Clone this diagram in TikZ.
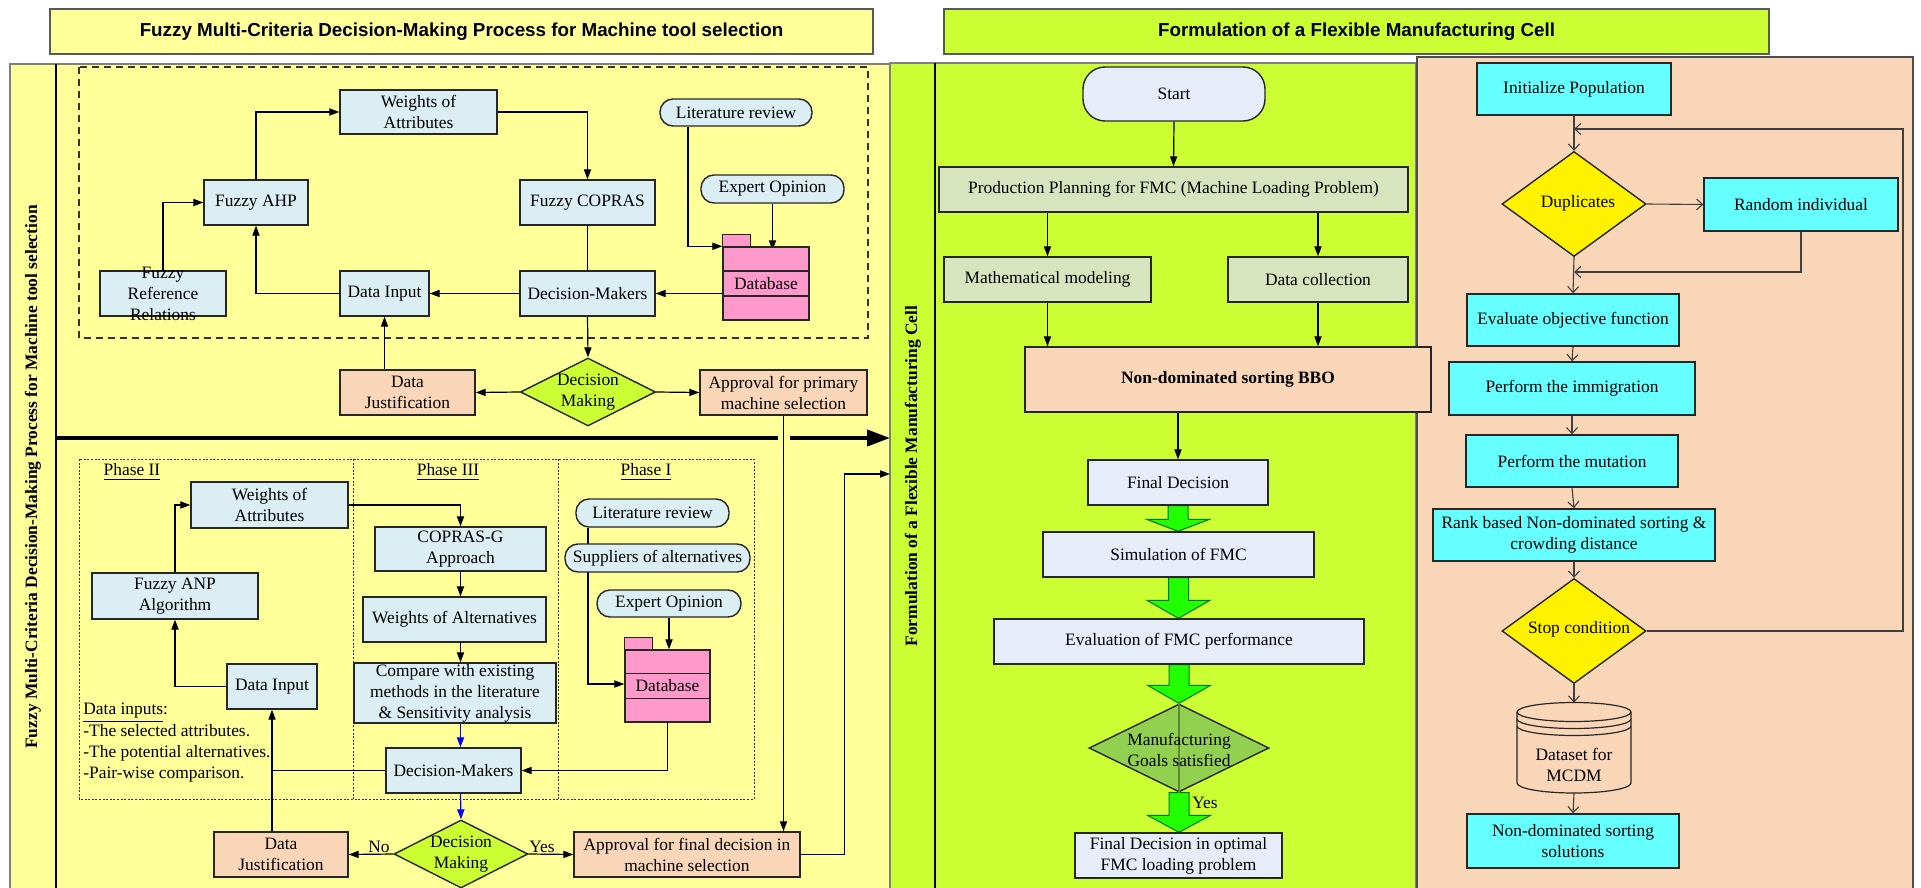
\documentclass[tikz,border=0pt]{standalone}
\usepackage{fontspec}
\setmainfont{Liberation Serif}
\newfontfamily\headfont{Liberation Sans}
\usetikzlibrary{shapes.geometric,arrows.meta,calc}

\definecolor{paleyellow}{HTML}{FFFF99}
\definecolor{lime}{HTML}{CCFF33}
\definecolor{peach}{HTML}{FAD6B8}
\definecolor{iceblue}{HTML}{DAEEF3}
\definecolor{dbpink}{HTML}{FF99CC}
\definecolor{sage}{HTML}{D7E4BD}
\definecolor{lavender}{HTML}{E6EDF8}
\definecolor{aqua}{HTML}{66FFFF}
\definecolor{goalgreen}{HTML}{92D050}
\definecolor{arrowgreen}{HTML}{22FF00}
\definecolor{edge}{HTML}{262626}
\definecolor{panelline}{HTML}{7F7F7F}

\pgfdeclarelayer{panels}
\pgfdeclarelayer{links}
\pgfsetlayers{panels,links,main}

\newcommand{\fs}{\fontsize{8.7}{10.5}\selectfont}
\newcommand{\headfs}{\headfont\bfseries\fontsize{9.4}{11}\selectfont}

\tikzset{
  sz/.style 2 args={minimum width=#1*0.5pt, minimum height=#2*0.5pt},
  box/.style={draw=edge, line width=0.7pt, inner sep=0pt, align=center, font=\fs},
  bluebox/.style={box, fill=iceblue},
  peachbox/.style={box, fill=peach},
  sagebox/.style={box, fill=sage},
  lavbox/.style={box, fill=lavender},
  aquabox/.style={box, fill=aqua},
  pill/.style={box, fill=iceblue, rounded corners=6.5pt},
  dbody/.style={box, fill=dbpink},
  dia/.style={diamond, draw=edge, line width=0.7pt, inner sep=0pt},
  lbl/.style={font=\fs, align=center, inner sep=0pt},
  link/.style={draw=black, line width=0.6pt},
  arr/.style={link, -{Triangle[length=5pt,width=3.6pt]}},
  barr/.style={arr, draw=blue},
  oarr/.style={draw=black!75, line width=0.55pt, -{Straight Barb[length=3pt,width=5.5pt]}},
  garrow/.style={fill=arrowgreen, draw=green!45!black, line width=0.5pt},
  thick arrow/.style={draw=black, line width=2pt},
}

% tab and shelves of a database symbol drawn on a body node
\newcommand{\dbparts}[1]{%
  \draw[dbody] (#1.north west) rectangle ++(28,-12);
  \draw[edge, line width=0.7pt] ($(#1.north west)!0.333!(#1.south west)$) -- ($(#1.north east)!0.333!(#1.south east)$);
  \draw[edge, line width=0.7pt] ($(#1.north west)!0.667!(#1.south west)$) -- ($(#1.north east)!0.667!(#1.south east)$);
  \node[lbl] at (#1) {Database};}

% wide green block arrow between two nodes: from, to, head length
\newcommand{\greenarrow}[3]{%
  \draw[garrow] let \p1=(#1), \p2=(#2) in
    (\x1-5pt,\y1) -- (\x1+5pt,\y1) -- (\x1+5pt,\y2+#3) -- (\x1+15.75pt,\y2+#3)
    -- (\x1,\y2) -- (\x1-15.75pt,\y2+#3) -- (\x1-5pt,\y2+#3) -- cycle;}

\begin{document}
\begin{tikzpicture}[x=0.5pt,y=-0.5pt]
\useasboundingbox (0,0) rectangle (1921,888);

% ---------------- panels ----------------
\begin{pgfonlayer}{panels}
  \fill[white] (0,0) rectangle (1921,888);
  \draw[draw=panelline, fill=paleyellow, line width=0.6pt] (10,64) rectangle (890,892);
  \draw[black, line width=0.6pt] (56,64) -- (56,892);
  \draw[draw=panelline, fill=lime, line width=0.6pt] (890,63) rectangle (1416,892);
  \draw[black, line width=0.6pt] (935,63) -- (935,892);
  \draw[draw=black!70, fill=peach, line width=0.6pt] (1417,57) rectangle (1913,892);
  \draw[black!80, line width=0.6pt, dash pattern=on 3.5pt off 2.5pt] (79,67) rectangle (868,338);
  \draw[black!80, line width=0.5pt, dash pattern=on 1pt off 0.8pt] (79,459) rectangle (754,799);
  \draw[black!80, line width=0.5pt, dash pattern=on 1pt off 0.8pt] (353,459) -- (353,799);
  \draw[black!80, line width=0.5pt, dash pattern=on 1pt off 0.8pt] (558,459) -- (558,799);
\end{pgfonlayer}

% ---------------- titles ----------------
\node[box, fill=paleyellow, draw=black!65, sz={823}{45}, font=\headfs] (title1) at (461.5,31.5)
  {Fuzzy Multi-Criteria Decision-Making Process for Machine tool selection};
\node[box, fill=lime, draw=black!65, sz={825}{45}, font=\headfs] (title2) at (1356.5,31.5)
  {Formulation of a Flexible Manufacturing Cell};

\node[rotate=90, font=\bfseries\fs, inner sep=0pt] (side1) at (33,477)
  {Fuzzy Multi-Criteria Decision-Making Process for Machine tool selection};
\node[rotate=90, font=\bfseries\fs, inner sep=0pt] (side2) at (913,476)
  {Formulation of a Flexible Manufacturing Cell};

% ---------------- primary selection ----------------
\node[bluebox, sz={157}{44}] (w1) at (418.5,112) {Weights of\\Attributes};
\node[bluebox, sz={104}{45}] (ahp) at (256,202.5) {Fuzzy AHP};
\node[bluebox, sz={135}{45}] (fcop) at (587.5,202.5) {Fuzzy COPRAS};
\node[pill, sz={152}{27}] (lr1) at (736,112.5) {Literature review};
\node[pill, sz={143}{28}] (eo1) at (772.5,189) {Expert Opinion};
\node[dbody, sz={86}{73}] (db1) at (766,283.5) {};
\dbparts{db1}
\node[bluebox, sz={126}{45}] (frr) at (163,293.5) {};
\node[lbl] (frrtext) at (frr) {Fuzzy\\Reference\\Relations};
\node[bluebox, sz={89}{45}] (di1) at (384.5,293.5) {Data Input};
\node[bluebox, sz={135}{45}] (dm1) at (587.5,293.5) {Decision-Makers};
\node[peachbox, sz={135}{45}] (dj1) at (407.5,392.5) {Data\\Justification};
\node[dia, fill=lime, sz={135}{68}] (dec1) at (588,392) {};
\node[lbl] (dec1text) at (dec1) {Decision\\Making};
\node[peachbox, sz={167}{45}] (ap1) at (783.5,392.5) {Approval for primary\\machine selection};

% ---------------- final selection ----------------
\node[lbl] (ph2) at (132,472) {\underline{Phase II}};
\node[lbl] (ph3) at (448,472) {\underline{Phase III}};
\node[lbl] (ph1) at (646,472) {\underline{Phase I}};
\node[bluebox, sz={157}{46}] (w2) at (269.5,505) {Weights of\\Attributes};
\node[bluebox, sz={171}{44}] (cg) at (460.5,549) {COPRAS-G\\Approach};
\node[bluebox, sz={166}{46}] (anp) at (175,596) {Fuzzy ANP\\Algorithm};
\node[bluebox, sz={183}{45}] (wa) at (454.5,619.5) {Weights of Alternatives};
\node[bluebox, sz={90}{45}] (di2) at (272,686.5) {Data Input};
\node[bluebox, sz={202}{60}] (cmp) at (455,693) {Compare with existing\\methods in the literature\\\& Sensitivity analysis};
\node[pill, sz={153}{28}] (lr2) at (652.5,513) {Literature review};
\node[pill, sz={185}{28}] (sup) at (657.5,558) {Suppliers of alternatives};
\node[pill, sz={144}{27}] (eo2) at (669,603.5) {Expert Opinion};
\node[dbody, sz={85}{72}] (db2) at (667.5,686) {};
\dbparts{db2}
\node[lbl, align=left, anchor=north west, font=\fontsize{8.7}{10.65}\selectfont] (inputs) at (83,703)
  {\underline{Data inputs}:\\-The selected attributes.\\-The potential alternatives.\\-Pair-wise comparison.};
\node[bluebox, sz={135}{45}] (dm2) at (453.5,770.5) {Decision-Makers};
\node[dia, fill=lime, sz={134}{68}] (dec2) at (461,854) {};
\node[lbl] (dec2text) at (dec2) {Decision\\Making};
\node[peachbox, sz={134}{45}] (dj2) at (281,854.5) {Data\\Justification};
\node[peachbox, sz={226}{45}] (ap2) at (687,854.5) {Approval for final decision in\\machine selection};
\node[lbl] (no) at (379,847) {No};
\node[lbl] (yes1) at (542,847) {Yes};

% ---------------- FMC formulation ----------------
\node[lavbox, rounded corners=11pt, sz={182}{54}] (start) at (1174,94) {Start};
\node[sagebox, sz={469}{45}] (pp) at (1173.5,189.5) {Production Planning for FMC (Machine Loading Problem)};
\node[sagebox, sz={207}{45}] (mm) at (1047.5,279.5) {Mathematical modeling};
\node[sagebox, sz={180}{45}] (dc) at (1318,279.5) {Data collection};
\node[peachbox, sz={406}{65}, font=\bfseries\fs] (bbo) at (1228,379.5) {Non-dominated sorting BBO};
\node[lavbox, sz={180}{45}] (fd) at (1178,482.5) {Final Decision};
\node[lavbox, sz={271}{45}] (sim) at (1178.5,554.5) {Simulation of FMC};
\node[lavbox, sz={370}{45}] (ev) at (1179,641.5) {Evaluation of FMC performance};
\node[dia, fill=goalgreen, sz={180}{88}] (mg) at (1179,748) {};
\draw[goalgreen!65!black, line width=0.6pt] (mg.north) -- (mg.south);
\node[lbl] (mgtext) at (1179,750) {Manufacturing\\Goals satisfied};
\node[lavbox, sz={207}{45}] (fin) at (1178.5,855.5) {Final Decision in optimal\\FMC loading problem};
\node[lbl] (yes2) at (1205,803) {Yes};

% ---------------- BBO loop ----------------
\node[aquabox, sz={194}{52}] (ip) at (1574,89) {Initialize Population};
\node[dia, fill=yellow, sz={144}{105}] (dup) at (1574,204) {};
\node[lbl] (duptext) at (1578,203) {Duplicates};
\node[aquabox, sz={194}{53}] (ri) at (1801,204.5) {Random individual};
\node[aquabox, sz={212}{52}] (eof) at (1573,320) {Evaluate objective function};
\node[aquabox, sz={246}{53}] (imm) at (1572,388.5) {Perform the immigration};
\node[aquabox, sz={212}{52}] (mut) at (1572,461) {Perform the mutation};
\node[aquabox, sz={282}{52}] (rank) at (1574,535) {Rank based Non-dominated sorting \&\\crowding distance};
\node[dia, fill=yellow, sz={144}{105}] (stop) at (1574,631) {};
\node[lbl] (stoptext) at (1579,629) {Stop condition};
% dataset cylinder
\node[inner sep=0pt, sz={114}{90}] (ds) at (1574,748) {};
\filldraw[draw=edge, fill=peach, line width=0.6pt]
  (1517,712) -- (1517,783) arc[start angle=180, end angle=360, x radius=28.5pt, y radius=5pt]
  -- (1631,712) arc[start angle=0, end angle=180, x radius=28.5pt, y radius=4.75pt] -- cycle;
\draw[edge, line width=0.6pt] (1517,712) arc[start angle=180, end angle=360, x radius=28.5pt, y radius=4.75pt];
\draw[edge, line width=0.6pt] (1517,719) arc[start angle=180, end angle=360, x radius=28.5pt, y radius=4.75pt];
\draw[edge, line width=0.6pt] (1517,726) arc[start angle=180, end angle=360, x radius=28.5pt, y radius=4.75pt];
\node[lbl] (dstext) at (1574,764.5) {Dataset for\\MCDM};
\node[aquabox, sz={212}{54}] (nds) at (1573,841) {Non-dominated sorting\\solutions};

% ---------------- connectors ----------------
\begin{pgfonlayer}{links}
  % primary selection
  \draw[arr] (frr.north) |- (ahp.west);
  \draw[arr] (ahp.north) |- (w1.west);
  \draw[arr] (w1.east) -| (fcop.north);
  \draw[link] (fcop.south) -- (dm1.north);
  \draw[arr] ($(lr1.south)+(-48,0)$) |- (db1.north west);
  \draw[arr] (eo1.south) -- ($(eo1.south |- db1.north)+(0,4)$);
  \draw[arr] (db1.west |- dm1.east) -- (dm1.east);
  \draw[arr] (dm1.west) -- (di1.east);
  \draw[arr] (di1.west) -| (ahp.south);
  \draw[arr] (dm1.south) -- (dec1.north);
  \draw[arr] (dec1.west) -- (dj1.east);
  \draw[arr] (dec1.east) -- (ap1.west);
  \draw[arr] (dj1.north -| di1.south) -- (di1.south);
  \draw[arr] (ap1.south) -- (ap1.south |- ap2.north);
  % hand-over arrow
  \coordinate (thk0) at (56,438);
  \coordinate (thk1) at (778,438);
  \coordinate (thk2) at (790,438);
  \coordinate (thk3) at (890,438);
  \draw[thick arrow] (thk0) -- (thk1);
  \draw[thick arrow, -{Triangle[length=11.5pt,width=8pt]}] (thk2) -- (thk3);
  % final selection
  \draw[arr] (anp.north) |- (w2.west);
  \draw[arr] (w2.east) -| (cg.north);
  \draw[arr] (cg.south) -- (cg.south |- wa.north);
  \draw[arr] (cg.south |- wa.south) -- (cg.south |- cmp.north);
  \draw[barr] (cg.south |- cmp.south) -- (cg.south |- dm2.north);
  \draw[barr] (cg.south |- dm2.south) -- (dec2.north);
  \draw[arr] (di2.west) -| (anp.south);
  \draw[arr] (dj2.north -| di2.south) -- (di2.south);
  \draw[link] (dm2.west) -- (dm2.west -| di2.south);
  \draw[arr] ($(lr2.south)+(-64.5,0)$) |- ($(db2.west)+(0,-2)$);
  \draw[arr] (eo2.south) -- (eo2.south |- db2.north);
  \draw[arr] (db2.south) |- (dm2.east);
  \draw[arr] (dec2.west) -- (dj2.east);
  \draw[arr] (dec2.east) -- (ap2.west);
  \coordinate (gin) at (890,474);
  \draw[arr] (ap2.east) -- ++(44,0) |- (gin);
  % FMC formulation
  \draw[arr] (start.south) -- (pp.north);
  \draw[arr] (pp.south -| mm.north) -- (mm.north);
  \draw[arr] (pp.south -| dc.north) -- (dc.north);
  \draw[arr] (mm.south) -- (mm.south |- bbo.north);
  \draw[arr] (dc.south) -- (dc.south |- bbo.north);
  \draw[arr] (bbo.south -| fd.north) -- (fd.north);
  \greenarrow{fd.south}{sim.north}{6pt}
  \greenarrow{sim.south}{ev.north}{9pt}
  \greenarrow{ev.south}{mg.north}{9pt}
  \greenarrow{mg.south}{fin.north}{8.5pt}
  % BBO loop
  \coordinate (loopR) at (1903,129);
  \coordinate (rjoin) at (1574,272);
  \draw[oarr] (ip.south) -- (dup.north);
  \draw[oarr] (stop.east) -| (loopR) -- (ip.south |- loopR);
  \draw[oarr] (dup.east) -- (ri.west);
  \draw[oarr] (ri.south) |- (dup.south |- rjoin);
  \draw[oarr] (dup.south) -- (eof.north);
  \draw[oarr] (eof.south) -- (imm.north);
  \draw[oarr] (imm.south) -- (mut.north);
  \draw[oarr] (mut.south) -- (rank.north);
  \draw[oarr] (rank.south) -- (stop.north);
  \draw[oarr] (stop.south) -- (ds.north);
  \draw[oarr] (ds.south) -- (nds.north);
\end{pgfonlayer}
\end{tikzpicture}
\end{document}
